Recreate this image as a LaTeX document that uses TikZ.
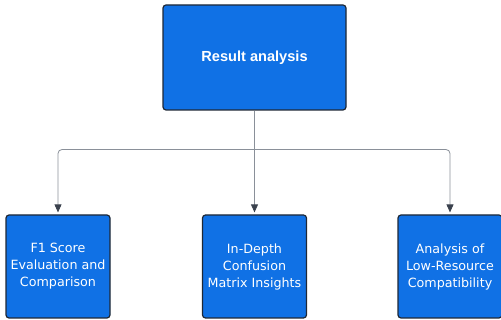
\documentclass[tikz,border=0pt]{standalone}
\usepackage{fontspec}
\setmainfont{Liberation Sans}
\newfontfamily\labelfont{DejaVu Sans}
\usetikzlibrary{arrows.meta}
\definecolor{boxblue}{HTML}{1071E5}
\definecolor{boxedge}{HTML}{1E2836}
\definecolor{linegray}{HTML}{8A9099}
\definecolor{tipgray}{HTML}{3A414D}
\tikzset{
  topic/.style={draw=boxedge, fill=boxblue, line width=1.2pt, rounded corners=3pt,
    text=white, align=center, font=\labelfont\fontsize{12.7}{17}\selectfont},
  link/.style={draw=linegray, line width=0.8pt, rounded corners=4pt,
    -{Triangle[length=8pt,width=7pt,color=tipgray]}, shorten >=2pt}
}
\begin{document}
\begin{tikzpicture}[x=1pt, y=-1pt]
  \useasboundingbox (0,0) rectangle (501,320);

  \node[topic, minimum width=183pt, minimum height=105pt, font=\fontsize{14.6}{17}\selectfont\bfseries] (result) at (254.5,57.5)
  {Result analysis};

  \node[topic, minimum width=104pt, minimum height=103pt] (fscore) at (58,266.5)
  {F1 Score\\Evaluation and\\Comparison};

  \node[topic, minimum width=104pt, minimum height=103pt] (matrix) at (254.5,266.5)
  {In-Depth\\Confusion\\Matrix Insights};

  \node[topic, minimum width=104pt, minimum height=103pt] (lowres) at (450,266.5)
  {Analysis of\\Low-Resource\\Compatibility};

  \coordinate (split) at (254.5,149.5);

  \draw[draw=linegray, line width=0.8pt] (result.south) -- (split);
  \draw[link] (split) -| (fscore.north);
  \draw[link] (split) -- (matrix.north);
  \draw[link] (split) -| (lowres.north);
\end{tikzpicture}
\end{document}
